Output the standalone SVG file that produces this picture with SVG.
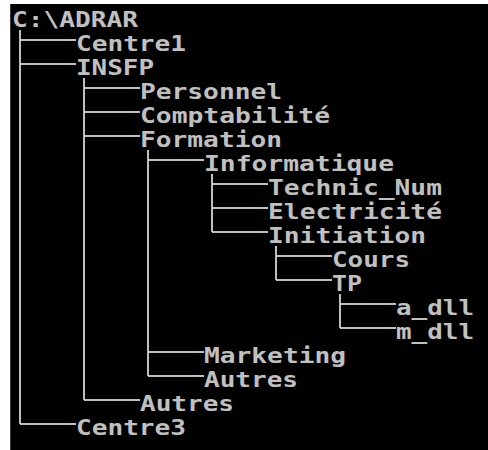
<svg xmlns="http://www.w3.org/2000/svg" width="488" height="450" viewBox="0 0 488 450">
<style>
.t{font-family:"DejaVu Sans Mono","Liberation Mono",monospace;font-weight:bold;font-size:20.5px;fill:#c0c0c0}
.c path{stroke:#c0c0c0;stroke-width:2;fill:none;shape-rendering:crispEdges}
</style>
<rect x="0" y="0" width="488" height="450" fill="#ffffff"/>
<rect x="10" y="4" width="478" height="446" fill="#000000"/>
<line x1="10.5" y1="4" x2="10.5" y2="450" stroke="#3c3c34" stroke-width="1"/>
<g class="c" id="connectors">
<path d="M20 30V424M20 40H76M20 64H76M20 424H76"/>
<path d="M84 78V400M84 88H140M84 112H140M84 136H140M84 400H140"/>
<path d="M148 150V376M148 160H204M148 352H204M148 376H204"/>
<path d="M212 174V232M212 184H268M212 208H268M212 232H268"/>
<path d="M276 246V280M276 256H332M276 280H332"/>
<path d="M340 294V328M340 304H396M340 328H396"/>
</g>
<g id="n-root"><text class="t" x="12" y="27" textLength="126" lengthAdjust="spacingAndGlyphs">C:\ADRAR</text></g>
<g id="n-centre1"><text class="t" x="76" y="51" textLength="110" lengthAdjust="spacingAndGlyphs">Centre1</text></g>
<g id="n-insfp"><text class="t" x="76" y="75" textLength="78" lengthAdjust="spacingAndGlyphs">INSFP</text></g>
<g id="n-personnel"><text class="t" x="140" y="99" textLength="142" lengthAdjust="spacingAndGlyphs">Personnel</text></g>
<g id="n-comptabilite"><text class="t" x="140" y="123" textLength="190" lengthAdjust="spacingAndGlyphs">Comptabilité</text></g>
<g id="n-formation"><text class="t" x="140" y="147" textLength="142" lengthAdjust="spacingAndGlyphs">Formation</text></g>
<g id="n-informatique"><text class="t" x="204" y="171" textLength="190" lengthAdjust="spacingAndGlyphs">Informatique</text></g>
<g id="n-technic"><text class="t" x="268" y="195" textLength="174" lengthAdjust="spacingAndGlyphs">Technic_Num</text></g>
<g id="n-electricite"><text class="t" x="268" y="219" textLength="174" lengthAdjust="spacingAndGlyphs">Electricité</text></g>
<g id="n-initiation"><text class="t" x="268" y="243" textLength="158" lengthAdjust="spacingAndGlyphs">Initiation</text></g>
<g id="n-cours"><text class="t" x="332" y="267" textLength="78" lengthAdjust="spacingAndGlyphs">Cours</text></g>
<g id="n-tp"><text class="t" x="332" y="291" textLength="30" lengthAdjust="spacingAndGlyphs">TP</text></g>
<g id="n-adll"><text class="t" x="396" y="315" textLength="78" lengthAdjust="spacingAndGlyphs">a_dll</text></g>
<g id="n-mdll"><text class="t" x="396" y="339" textLength="78" lengthAdjust="spacingAndGlyphs">m_dll</text></g>
<g id="n-marketing"><text class="t" x="204" y="363" textLength="142" lengthAdjust="spacingAndGlyphs">Marketing</text></g>
<g id="n-autres1"><text class="t" x="204" y="387" textLength="94" lengthAdjust="spacingAndGlyphs">Autres</text></g>
<g id="n-autres2"><text class="t" x="140" y="411" textLength="94" lengthAdjust="spacingAndGlyphs">Autres</text></g>
<g id="n-centre3"><text class="t" x="76" y="435" textLength="110" lengthAdjust="spacingAndGlyphs">Centre3</text></g>
</svg>
